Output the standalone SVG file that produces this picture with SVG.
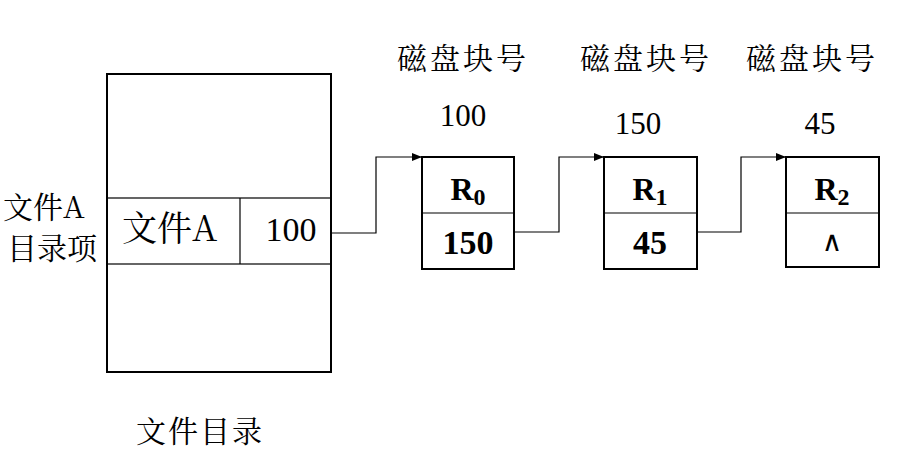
<svg xmlns="http://www.w3.org/2000/svg" width="914" height="468" viewBox="0 0 914 468">
<style>
.cjk{font-family:"Noto Serif CJK SC","Noto Sans CJK SC",serif;fill:#000}
.num{font-family:"Liberation Serif","Times New Roman",serif;fill:#000}
.bold{font-family:"Liberation Serif","Times New Roman",serif;font-weight:bold;fill:#000}
.box{fill:#fff;stroke:#000;stroke-width:2}
.thin{fill:none;stroke:#000;stroke-width:1.2}
.conn{fill:none;stroke:#000;stroke-width:1.2}
</style>
<defs>
<marker id="arr" markerWidth="10" markerHeight="8" refX="9" refY="4" orient="auto" markerUnits="userSpaceOnUse">
<path d="M0,0 L10,4 L0,8 Z" fill="#000"/>
</marker>
</defs>
<g id="directory">
<rect class="box" x="107" y="74" width="224" height="298" stroke-width="2.5"/>
<rect class="thin" x="107" y="198" width="224" height="66" fill="#fff"/>
<line class="thin" x1="240" y1="198" x2="240" y2="264"/>
<text class="cjk" x="122" y="241" font-size="35">文件A</text>
<text class="num" x="291" y="241" font-size="34" text-anchor="middle">100</text>
</g>
<g id="entry-label">
<text class="cjk" x="3" y="218" font-size="30">文件A</text>
<text class="cjk" x="7" y="259" font-size="30">目录项</text>
</g>
<g id="dir-title">
<text class="cjk" x="200" y="442" font-size="30" text-anchor="middle" letter-spacing="2">文件目录</text>
</g>
<g id="block0">
<text class="cjk" x="463" y="69" font-size="30" text-anchor="middle" letter-spacing="3">磁盘块号</text>
<text class="num" x="463" y="126" font-size="31" text-anchor="middle">100</text>
<rect class="box" x="422" y="157" width="92" height="112"/>
<line class="thin" x1="422" y1="213" x2="514" y2="213"/>
<text class="bold" x="468" y="200" font-size="32" text-anchor="middle">R<tspan font-size="24" dy="5">0</tspan></text>
<text class="bold" x="468" y="254" font-size="34" text-anchor="middle">150</text>
</g>
<g id="block1">
<text class="cjk" x="646" y="69" font-size="30" text-anchor="middle" letter-spacing="3">磁盘块号</text>
<text class="num" x="638" y="134" font-size="31" text-anchor="middle">150</text>
<rect class="box" x="604" y="157" width="93" height="112"/>
<line class="thin" x1="604" y1="213" x2="697" y2="213"/>
<text class="bold" x="650" y="200" font-size="32" text-anchor="middle">R<tspan font-size="24" dy="5">1</tspan></text>
<text class="bold" x="650" y="254" font-size="34" text-anchor="middle">45</text>
</g>
<g id="block2">
<text class="cjk" x="812" y="69" font-size="30" text-anchor="middle" letter-spacing="3">磁盘块号</text>
<text class="num" x="820" y="134" font-size="31" text-anchor="middle">45</text>
<rect class="box" x="786" y="157" width="93" height="110"/>
<line class="thin" x1="786" y1="213" x2="879" y2="213"/>
<text class="bold" x="832" y="200" font-size="32" text-anchor="middle">R<tspan font-size="24" dy="5">2</tspan></text>
<text x="832" y="251" font-size="28" text-anchor="middle" font-family="'DejaVu Sans',sans-serif">∧</text>
</g>
<g id="connectors">
<path class="conn" d="M331,233 H376 V157 H421" marker-end="url(#arr)"/>
<path class="conn" d="M514,232 H559 V157 H603" marker-end="url(#arr)"/>
<path class="conn" d="M697,232 H741 V157 H785" marker-end="url(#arr)"/>
</g>
</svg>
